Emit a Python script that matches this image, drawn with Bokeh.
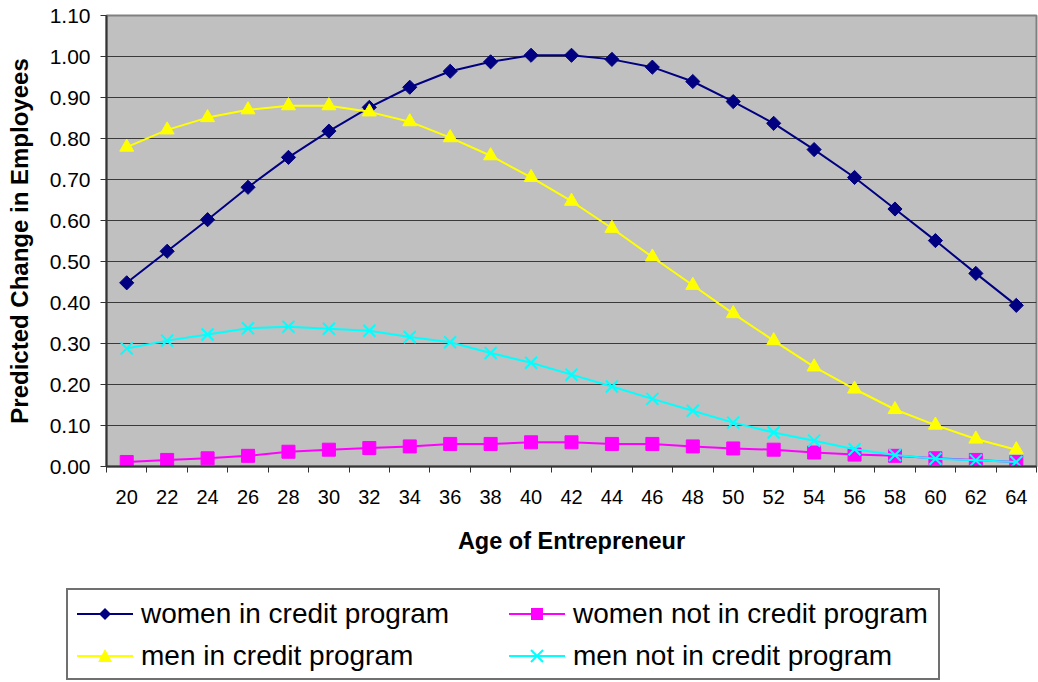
from bokeh.plotting import figure
from bokeh.layouts import column
from bokeh.models import FixedTicker, Range1d, NumeralTickFormatter, Div
from bokeh.embed import file_html
from bokeh.resources import INLINE

ages = [20, 22, 24, 26, 28, 30, 32, 34, 36, 38, 40, 42, 44, 46, 48, 50, 52, 54, 56, 58, 60, 62, 64]

women_credit = [0.448, 0.525, 0.602, 0.681, 0.754, 0.818, 0.876, 0.925, 0.964, 0.987, 1.003, 1.003,
                0.993, 0.974, 0.939, 0.890, 0.837, 0.773, 0.705, 0.628, 0.551, 0.471, 0.393]
women_no_credit = [0.011, 0.016, 0.020, 0.026, 0.036, 0.041, 0.045, 0.049, 0.055, 0.055, 0.059, 0.059,
                   0.055, 0.055, 0.049, 0.044, 0.041, 0.034, 0.029, 0.026, 0.020, 0.016, 0.011]
men_credit = [0.779, 0.821, 0.851, 0.870, 0.880, 0.880, 0.865, 0.841, 0.802, 0.758, 0.705, 0.647,
              0.581, 0.511, 0.442, 0.373, 0.307, 0.243, 0.189, 0.139, 0.101, 0.067, 0.041]
men_no_credit = [0.288, 0.307, 0.322, 0.337, 0.341, 0.336, 0.331, 0.316, 0.303, 0.277, 0.253, 0.224,
                 0.195, 0.165, 0.136, 0.107, 0.083, 0.063, 0.042, 0.028, 0.019, 0.015, 0.011]

series_labels = ["women in credit program", "women not in credit program",
                 "men in credit program", "men not in credit program"]

y_ticks = [0.0, 0.1, 0.2, 0.3, 0.4, 0.5, 0.6, 0.7, 0.8, 0.9, 1.0, 1.1]

FONT = "Liberation Sans"
DARK = "#333333"
NAVY, MAGENTA, YELLOW, CYAN = "#000080", "#FF00FF", "#FFFF00", "#00FFFF"

p = figure(width=1038, height=570, output_backend="svg", toolbar_location=None,
           x_range=Range1d(ages[0] - 1, ages[-1] + 1), y_range=Range1d(0, 1.1),
           min_border_left=106, min_border_right=2, min_border_top=15, min_border_bottom=104)
p.border_fill_color = "white"
p.background_fill_color = "#C0C0C0"
p.outline_line_color = "#808080"
p.outline_line_width = 2

# x axis (ticks between categories, labels at categories)
p.xaxis.ticker = FixedTicker(ticks=ages, minor_ticks=[a - 1 for a in ages] + [ages[-1] + 1])
p.xaxis.major_tick_line_color = None
p.xaxis.minor_tick_out = 6
p.xaxis.minor_tick_in = 0
p.xaxis.minor_tick_line_color = DARK
p.xaxis.minor_tick_line_width = 1
p.xaxis.axis_line_color = DARK
p.xaxis.axis_line_width = 2
p.xaxis.major_label_text_font = FONT
p.xaxis.major_label_text_font_size = "20px"
p.xaxis.major_label_text_color = "black"
p.xaxis.major_label_standoff = 17
p.xaxis.axis_label = "Age of Entrepreneur"
p.xaxis.axis_label_text_font = FONT
p.xaxis.axis_label_text_font_size = "23.5px"
p.xaxis.axis_label_text_font_style = "bold"
p.xaxis.axis_label_text_color = "black"
p.xaxis.axis_label_standoff = 21

# y axis
p.yaxis.ticker = FixedTicker(ticks=y_ticks, minor_ticks=[])
p.yaxis.formatter = NumeralTickFormatter(format="0.00")
p.yaxis.major_tick_out = 6
p.yaxis.major_tick_in = 0
p.yaxis.major_tick_line_color = DARK
p.yaxis.axis_line_color = DARK
p.yaxis.axis_line_width = 2
p.yaxis.major_label_text_font = FONT
p.yaxis.major_label_text_font_size = "21px"
p.yaxis.major_label_text_color = "black"
p.yaxis.major_label_standoff = 10
p.yaxis.axis_label = "Predicted Change in Employees"
p.yaxis.axis_label_text_font = FONT
p.yaxis.axis_label_text_font_size = "24px"
p.yaxis.axis_label_text_font_style = "bold"
p.yaxis.axis_label_text_color = "black"
p.yaxis.axis_label_standoff = 14

p.xgrid.grid_line_color = None
p.ygrid.ticker = FixedTicker(ticks=y_ticks[1:-1])
p.ygrid.grid_line_color = "#3a3a3a"
p.ygrid.grid_line_width = 1


def add_series(fig, xs, ys, color, marker):
    fig.line(xs, ys, line_color=color, line_width=2)
    if marker == "diamond":
        fig.scatter(xs, ys, marker="square", angle=0.785398, size=10,
                    fill_color=color, line_color=color)
    elif marker == "square":
        fig.scatter(xs, ys, marker="square", size=13, fill_color=color, line_color=color)
    elif marker == "triangle":
        fig.scatter(xs, ys, marker="triangle", size=14, fill_color=color, line_color=color)
    else:
        fig.scatter(xs, ys, marker="x", size=17, line_color=color, line_width=2)


specs = [(women_credit, NAVY, "diamond"), (women_no_credit, MAGENTA, "square"),
         (men_credit, YELLOW, "triangle"), (men_no_credit, CYAN, "x")]
for ys, color, marker in specs:
    add_series(p, ages, ys, color, marker)


# ---- legend strip (HTML, below the chart) ----
def legend_icon(color, marker):
    line = f'<line x1="0" y1="15" x2="56" y2="15" stroke="{color}" stroke-width="2"/>'
    if marker == "diamond":
        mk = f'<polygon points="28,9 34,15 28,21 22,15" fill="{color}"/>'
    elif marker == "square":
        mk = f'<rect x="22" y="9" width="12" height="12" fill="{color}"/>'
    elif marker == "triangle":
        mk = f'<polygon points="28,8 35,21 21,21" fill="{color}"/>'
    else:
        mk = (f'<path d="M22,9 L34,21 M34,9 L22,21" stroke="{color}" stroke-width="2"/>')
    return f'<svg width="56" height="30" style="position:absolute;left:0;top:0">{line}{mk}</svg>'


col_x = [9, 441]
row_y = [24, 66]
entries = ""
for k, ((ys, color, marker), label) in enumerate(zip(specs, series_labels)):
    cx = col_x[k % 2]
    cy = row_y[k // 2]
    entries += (
        f'<div style="position:absolute;left:{cx}px;top:{cy - 15}px;width:56px;height:30px">'
        f'{legend_icon(color, marker)}</div>'
        f'<div style="position:absolute;left:{cx + 64}px;top:{cy - 17}px;height:34px;'
        f'line-height:34px;font-family:\'{FONT}\';font-size:28px;color:black;white-space:nowrap">'
        f'{label}</div>'
    )

legend_html = (
    '<div style="position:relative;width:1038px;height:112px;background:white">'
    '<div style="position:absolute;left:66px;top:18px;width:874px;height:92px;'
    'box-sizing:border-box;border:2px solid #707070;background:white">'
    f'{entries}</div></div>'
)
legend_div = Div(text=legend_html, width=1038, height=112, margin=0)

open("out.html", "w").write(file_html(column(p, legend_div, spacing=0), INLINE))
